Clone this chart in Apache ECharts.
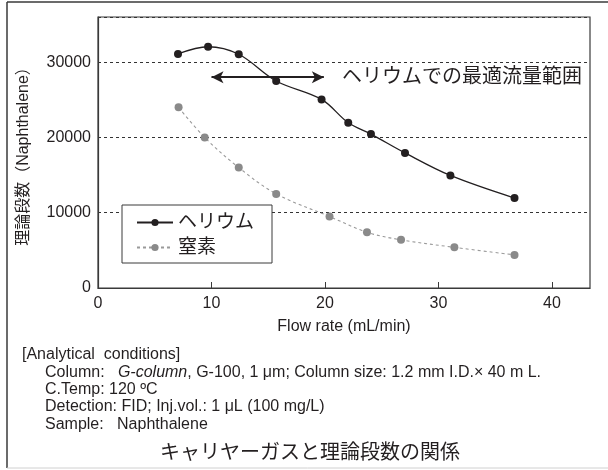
<!DOCTYPE html>
<html><head><meta charset="utf-8">
<script src="https://cdn.jsdelivr.net/npm/echarts@6/dist/echarts.min.js"></script>
<style>html,body{margin:0;padding:0;background:#fff}#c{width:608px;height:470px}</style>
</head><body><div id="c"></div>
<script>
const heliumX = [7.05, 9.7, 12.4, 15.7, 19.7, 22.05, 24.05, 27.05, 31.05, 36.7];
const heliumY = [31100, 32050, 31050, 27500, 25050, 21950, 20450, 17950, 14950, 11950];
const nitrogenX = [7.1, 9.4, 12.4, 15.7, 20.4, 23.7, 26.7, 31.4, 36.7];
const nitrogenY = [24000, 20000, 16000, 12500, 9500, 7400, 6400, 5400, 4400];
const seriesNames = ['ヘリウム', '窒素'];
const arrowRange = [10, 19.9];
const arrowLevel = 28000;
const annotationText = 'ヘリウムでの最適流量範囲';
const xName = 'Flow rate (mL/min)';
const yName = '理論段数（Naphthalene）';
const conditionLines = [
  '[Analytical  conditions]',
  '{n|Column:   }{i|G-column}{n|, G-100, 1 μm; Column size: 1.2 mm I.D.× 40 m L.}',
  'C.Temp: 120 ºC',
  'Detection: FID; Inj.vol.: 1 μL (100 mg/L)',
  'Sample:   Naphthalene'
];
const captionText = 'キャリヤーガスと理論段数の関係';

const FF = '"Liberation Sans", Arial, "Noto Sans CJK JP", sans-serif';
const DARK = '#231f20';
const toPairs = (xs, ys) => xs.map((x, i) => [x, ys[i]]);

const chart = echarts.init(document.getElementById('c'), null, {renderer: 'canvas'});
const FS = 16;
const condGraphics = conditionLines.map((t, i) => ({
  type: 'text', x: i === 0 ? 22 : 45, y: 355 + i * 17.3,
  style: {
    text: t, font: FS + 'px ' + FF, fill: DARK, verticalAlign: 'middle',
    rich: { n: {fontSize: FS, fontFamily: FF, fill: DARK}, i: {fontSize: FS, fontFamily: FF, fontStyle: 'italic', fill: DARK} }
  }
}));
chart.setOption({
  animation: false,
  textStyle: {fontFamily: FF},
  grid: {left: 98, right: 18, top: 17, bottom: 182, show: true, borderColor: '#3a3a3a', borderWidth: 1.2, backgroundColor: 'transparent'},
  legend: {
    data: seriesNames, orient: 'vertical', left: 122, top: 205,
    backgroundColor: '#fff', borderColor: '#3a3a3a', borderWidth: 1,
    padding: [8, 18, 6, 14], itemGap: 6, itemWidth: 36, itemHeight: 9,
    textStyle: {fontSize: 19, color: DARK, fontFamily: FF}, z: 10
  },
  xAxis: {
    type: 'value', min: 0, max: 43.35, interval: 10,
    name: xName, nameLocation: 'middle', nameGap: 31,
    nameTextStyle: {fontSize: 16, color: DARK, fontFamily: FF},
    axisLine: {lineStyle: {color: '#3a3a3a', width: 1.2}},
    axisTick: {inside: true, length: 6, lineStyle: {color: '#3a3a3a'}},
    splitLine: {show: false},
    axisLabel: {fontSize: 16, color: DARK, margin: 8, showMaxLabel: false,
      formatter: v => (Math.abs(v % 10) < 1e-6 ? String(v) : '')}
  },
  yAxis: {
    type: 'value', min: 0, max: 36000, interval: 10000,
    name: yName, nameLocation: 'middle', nameGap: 66, nameRotate: 90,
    nameTextStyle: {fontSize: 16, color: DARK, fontFamily: FF},
    axisLine: {show: true, lineStyle: {color: '#3a3a3a', width: 1.2}},
    axisTick: {show: false},
    splitLine: {show: true, lineStyle: {color: '#333', type: [3, 3], width: 1}},
    axisLabel: {fontSize: 16, color: DARK, margin: 7, showMaxLabel: false,
      formatter: v => (v % 10000 === 0 ? String(v) : '')}
  },
  series: [
    {
      name: seriesNames[0], type: 'line', data: toPairs(heliumX, heliumY),
      smooth: 0.35, symbol: 'circle', symbolSize: 8,
      itemStyle: {color: DARK}, lineStyle: {color: DARK, width: 1.3}, z: 5,
      markLine: {
        silent: true, symbol: ['arrow', 'arrow'], symbolSize: [9, 12],
        label: {show: false}, lineStyle: {color: DARK, width: 2.2, type: 'solid'},
        data: [[{coord: [arrowRange[0], arrowLevel]}, {coord: [arrowRange[1], arrowLevel]}]]
      }
    },
    {
      name: seriesNames[1], type: 'line', data: toPairs(nitrogenX, nitrogenY),
      smooth: 0.35, symbol: 'circle', symbolSize: 8,
      itemStyle: {color: '#8a8a8a'}, lineStyle: {color: '#9a9a9a', width: 1.1, type: [3, 3]}, z: 4
    }
  ],
  graphic: [
    {type: 'line', shape: {x1: 7, y1: 2, x2: 608, y2: 2}, style: {stroke: '#3a3a3a', lineWidth: 1.5}, silent: true},
    {type: 'line', shape: {x1: 7, y1: 2, x2: 7, y2: 468}, style: {stroke: '#3a3a3a', lineWidth: 1.5}, silent: true},
    {type: 'line', shape: {x1: 7, y1: 468, x2: 608, y2: 468}, style: {stroke: '#d0d0d0', lineWidth: 1}, silent: true},
    {type: 'text', x: 342, y: 77, style: {text: annotationText, font: '20px ' + FF, fill: DARK, verticalAlign: 'middle'}},
    ...condGraphics,
    {type: 'text', x: 310, y: 453, style: {text: captionText, font: '20px ' + FF, fill: DARK, align: 'center', verticalAlign: 'middle'}}
  ]
});
</script></body></html>
